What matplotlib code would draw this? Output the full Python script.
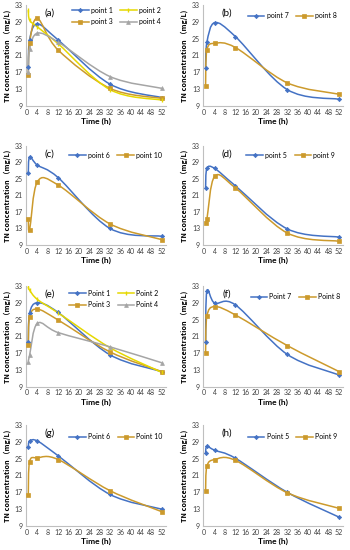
import numpy as np
import matplotlib
matplotlib.use("Agg")
import matplotlib.pyplot as plt
from matplotlib.path import Path
from matplotlib.patches import PathPatch
from matplotlib.lines import Line2D

plt.rcParams['font.family'] = ['Lato', 'DejaVu Sans']

# ---------- Data ----------
times = [0.5, 1, 4, 12, 32, 52]

a_point1 = [18.3, 24.8, 28.5, 24.7, 14.2, 11.0]
a_point2 = [31.8, 29.4, 27.8, 23.8, 12.9, 10.4]
a_point3 = [16.4, 23.9, 29.8, 22.3, 13.2, 10.8]
a_point4 = [17.0, 22.6, 26.3, 24.2, 16.0, 13.2]

b_point7 = [18.1, 24.1, 28.8, 25.5, 12.9, 10.6]
b_point8 = [13.8, 22.3, 23.9, 22.9, 14.5, 11.8]

c_point6 = [26.3, 30.3, 28.3, 25.3, 13.0, 11.1]
c_point10 = [15.4, 12.6, 24.3, 23.5, 14.1, 10.3]

d_point5 = [22.8, 27.5, 27.5, 23.3, 12.9, 10.9]
d_point9 = [14.3, 15.2, 25.6, 22.8, 11.9, 9.9]

e_point1 = [19.6, 26.5, 29.0, 26.7, 16.6, 12.6]
e_point2 = [32.8, 32.0, 29.8, 26.6, 18.3, 12.4]
e_point3 = [18.9, 25.7, 27.5, 24.9, 17.3, 12.6]
e_point4 = [15.0, 16.5, 24.1, 21.9, 18.5, 14.7]

f_point7 = [19.6, 31.8, 28.9, 28.5, 16.7, 11.8]
f_point8 = [17.1, 25.8, 28.1, 26.1, 18.8, 12.6]

g_point6 = [27.7, 29.2, 29.2, 25.7, 16.5, 13.0]
g_point10 = [16.4, 24.3, 25.2, 24.8, 17.4, 12.4]

h_point5 = [26.3, 27.9, 27.0, 25.1, 17.0, 11.1]
h_point9 = [17.2, 23.2, 24.8, 24.6, 16.9, 13.2]

BLUE = "#4472C4"
YELLOW = "#E6D800"
GOLD = "#CC9A2C"
GRAY = "#A5A5A5"

# style per series: (color, marker, markersize)
sty_blue = (BLUE, "D", 2.2)
sty_yellow = (YELLOW, "|", 3.0)
sty_gold = (GOLD, "s", 3.2)
sty_gray = (GRAY, "^", 2.8)

# legend entries listed column by column so rows read 1,2 / 3,4
# last two numbers: legend anchor (x, y) in axes fraction
panels = [
    ("(a)", [("point 1", a_point1, sty_blue), ("point 3", a_point3, sty_gold),
             ("point 2", a_point2, sty_yellow), ("point 4", a_point4, sty_gray)], 0.33, 0.985),
    ("(b)", [("point 7", b_point7, sty_blue), ("point 8", b_point8, sty_gold)], 0.32, 0.93),
    ("(c)", [("point 6", c_point6, sty_blue), ("point 10", c_point10, sty_gold)], 0.31, 0.94),
    ("(d)", [("point 5", d_point5, sty_blue), ("point 9", d_point9, sty_gold)], 0.31, 0.94),
    ("(e)", [("Point 1", e_point1, sty_blue), ("Point 3", e_point3, sty_gold),
             ("Point 2", e_point2, sty_yellow), ("Point 4", e_point4, sty_gray)], 0.31, 0.965),
    ("(f)", [("Point 7", f_point7, sty_blue), ("Point 8", f_point8, sty_gold)], 0.34, 0.93),
    ("(g)", [("Point 6", g_point6, sty_blue), ("Point 10", g_point10, sty_gold)], 0.31, 0.92),
    ("(h)", [("Point 5", h_point5, sty_blue), ("Point 9", h_point9, sty_gold)], 0.32, 0.92),
]

# ---------- Smooth line like Excel ----------
def smooth_path(x, y):
    pts = np.column_stack([x, y]).astype(float)
    n = len(pts)
    verts = [pts[0]]
    codes = [Path.MOVETO]
    for i in range(n - 1):
        p0 = pts[i - 1] if i > 0 else pts[i]
        p1 = pts[i]
        p2 = pts[i + 1]
        p3 = pts[i + 2] if i + 2 < n else pts[i + 1]
        c1 = p1 + (p2 - p0) / 6.0
        c2 = p2 - (p3 - p1) / 6.0
        verts += [c1, c2, p2]
        codes += [Path.CURVE4] * 3
    return Path(verts, codes)

# ---------- Figure ----------
fig = plt.figure(figsize=(3.5, 5.5), dpi=100)

lefts = [25.7 / 350, 203 / 350]
width = 140 / 350
rows = [(5, 106), (145.7, 245), (286, 386.7), (425, 526)]

for k, (tag, series, leg_x, leg_y) in enumerate(panels):
    r, c = divmod(k, 2)
    top, bot = rows[r]
    ax = fig.add_axes([lefts[c], 1 - bot / 550, width, (bot - top) / 550])

    handles = []
    for label, vals, (col, mk, ms) in series:
        ax.add_patch(PathPatch(smooth_path(times, vals), fill=False,
                               edgecolor=col, lw=1.1, zorder=2))
        mew = 1.0 if mk == "|" else 0.5
        ax.plot(times, vals, ls="none", marker=mk, ms=ms, color=col,
                mec=col, mew=mew, zorder=3)
        handles.append(Line2D([], [], color=col, lw=1.1, marker=mk, ms=ms,
                              mew=mew, label=label))

    ax.set_xlim(-0.5, 53.5)
    ax.set_ylim(9, 33)
    ax.set_xticks(np.arange(0, 53, 4))
    ax.set_yticks(np.arange(9, 34, 4))
    ax.tick_params(length=0, labelsize=5, pad=2, colors="#404040")
    for s in ["top", "right"]:
        ax.spines[s].set_visible(False)
    for s in ["left", "bottom"]:
        ax.spines[s].set_color("#BFBFBF")
        ax.spines[s].set_linewidth(0.8)

    ax.set_xlabel("Time (h)", fontsize=6, fontweight="bold", labelpad=1.5)
    ax.set_ylabel("TN concentration （mg/L)", fontsize=5.2, fontweight="bold",
                  labelpad=3, family=["Noto Sans CJK SC", "DejaVu Sans"])

    ax.text(0.17, 0.92, tag, transform=ax.transAxes, fontsize=7,
            va="center", ha="center")

    ax.legend(handles=handles, ncol=2, loc="upper left",
              bbox_to_anchor=(leg_x, leg_y), frameon=False, fontsize=5,
              handlelength=2.4, columnspacing=1.1, handletextpad=0.3,
              labelspacing=0.65, borderpad=0, borderaxespad=0)

fig.savefig("out.png", dpi=100)
